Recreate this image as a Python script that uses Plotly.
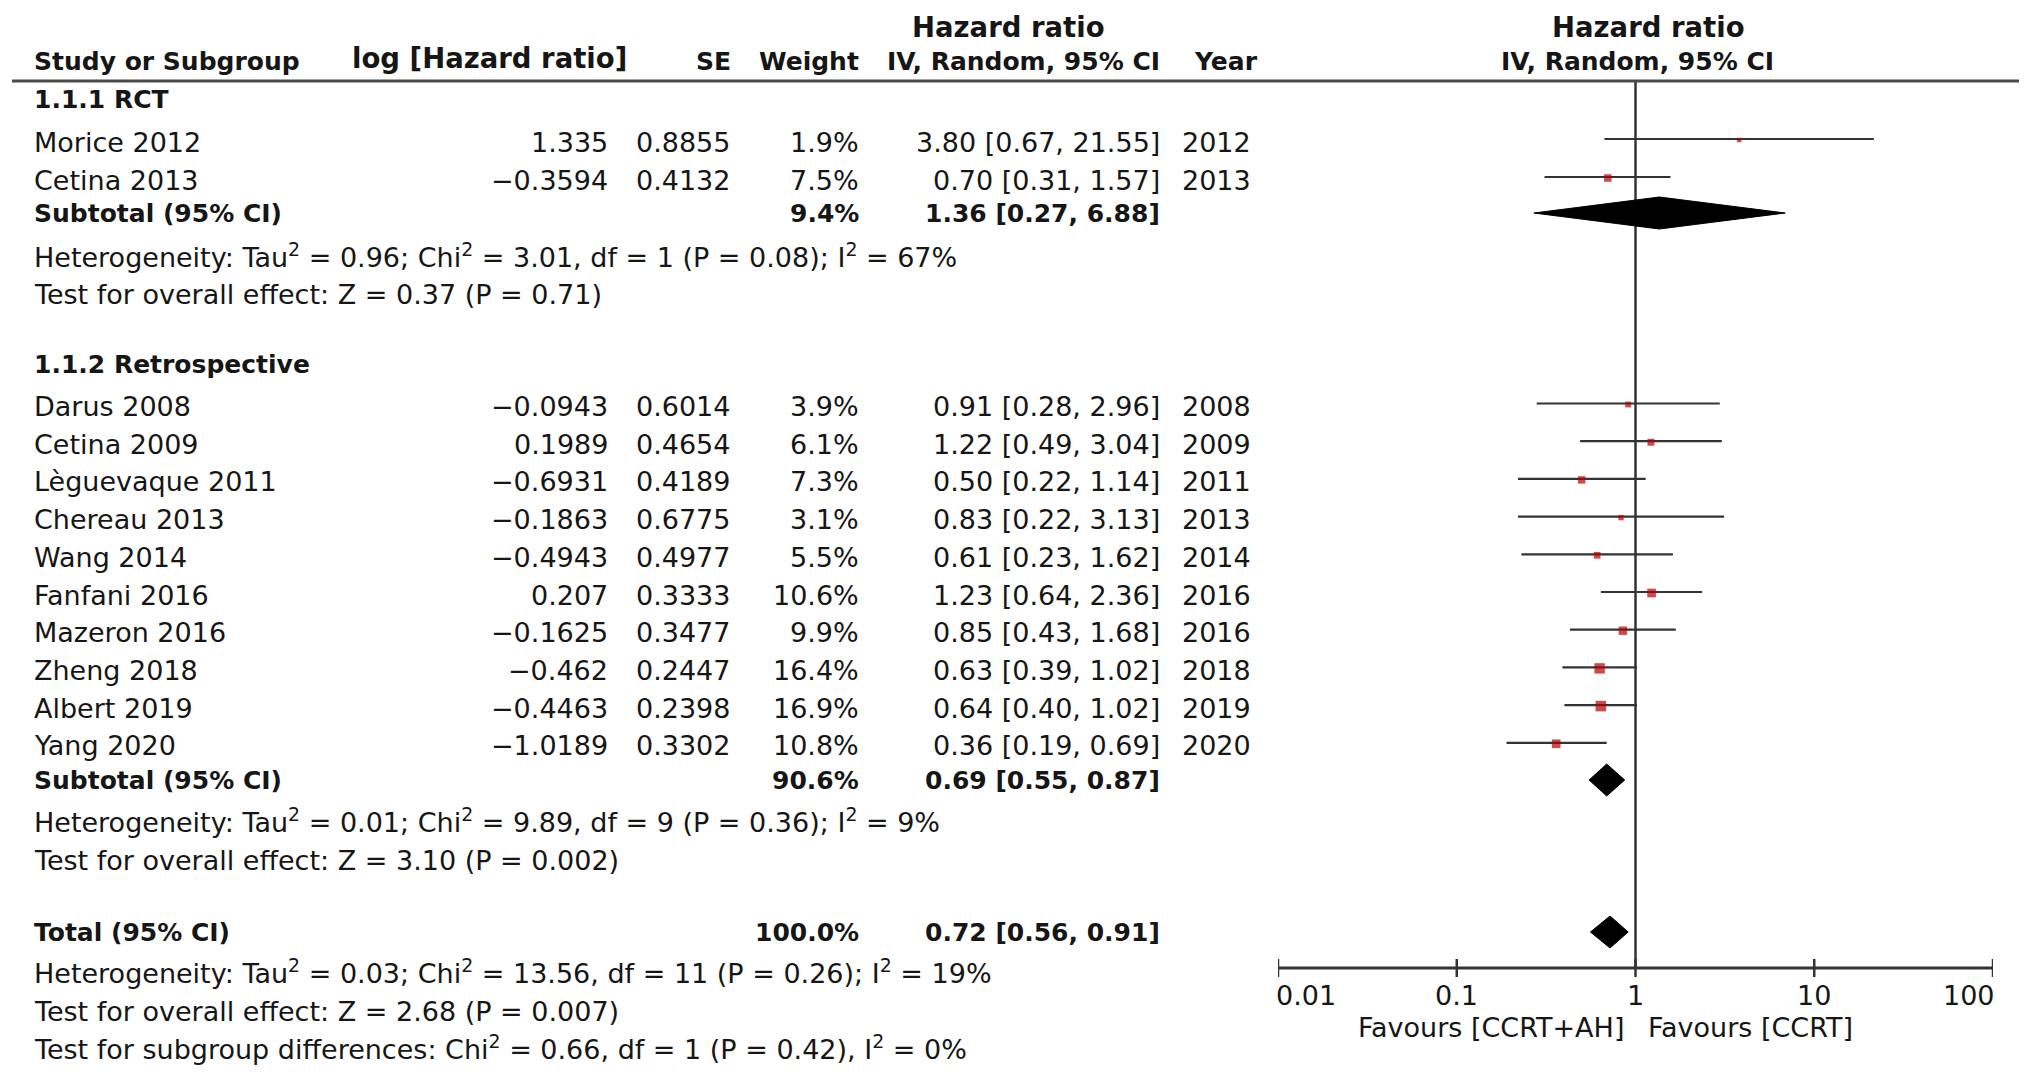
import math
import plotly.graph_objects as go

W, H = 2031, 1077

# ---------------- data ----------------
rct_names = ["Morice 2012", "Cetina 2013"]
rct_loghr = [1.335, -0.3594]
rct_se = [0.8855, 0.4132]
rct_weight = [1.9, 7.5]
rct_hr = [3.80, 0.70]
rct_lo = [0.67, 0.31]
rct_hi = [21.55, 1.57]
rct_year = [2012, 2013]

retro_names = ["Darus 2008", "Cetina 2009", "Lèguevaque 2011", "Chereau 2013", "Wang 2014",
               "Fanfani 2016", "Mazeron 2016", "Zheng 2018", "Albert 2019", "Yang 2020"]
retro_loghr = [-0.0943, 0.1989, -0.6931, -0.1863, -0.4943, 0.207, -0.1625, -0.462, -0.4463, -1.0189]
retro_se = [0.6014, 0.4654, 0.4189, 0.6775, 0.4977, 0.3333, 0.3477, 0.2447, 0.2398, 0.3302]
retro_weight = [3.9, 6.1, 7.3, 3.1, 5.5, 10.6, 9.9, 16.4, 16.9, 10.8]
retro_hr = [0.91, 1.22, 0.50, 0.83, 0.61, 1.23, 0.85, 0.63, 0.64, 0.36]
retro_lo = [0.28, 0.49, 0.22, 0.22, 0.23, 0.64, 0.43, 0.39, 0.40, 0.19]
retro_hi = [2.96, 3.04, 1.14, 3.13, 1.62, 2.36, 1.68, 1.02, 1.02, 0.69]
retro_year = [2008, 2009, 2011, 2013, 2014, 2016, 2016, 2018, 2019, 2020]

# subtotal / total: weight, HR, lower, upper
sub_rct = [9.4, 1.36, 0.27, 6.88]
sub_retro = [90.6, 0.69, 0.55, 0.87]
total_all = [100.0, 0.72, 0.56, 0.91]

SUP2 = "<sup>2</sup>"
het_rct = f"Heterogeneity: Tau{SUP2} = 0.96; Chi{SUP2} = 3.01, df = 1 (P = 0.08); I{SUP2} = 67%"
eff_rct = "Test for overall effect: Z = 0.37 (P = 0.71)"
het_retro = f"Heterogeneity: Tau{SUP2} = 0.01; Chi{SUP2} = 9.89, df = 9 (P = 0.36); I{SUP2} = 9%"
eff_retro = "Test for overall effect: Z = 3.10 (P = 0.002)"
het_total = f"Heterogeneity: Tau{SUP2} = 0.03; Chi{SUP2} = 13.56, df = 11 (P = 0.26); I{SUP2} = 19%"
eff_total = "Test for overall effect: Z = 2.68 (P = 0.007)"
sub_diff = f"Test for subgroup differences: Chi{SUP2} = 0.66, df = 1 (P = 0.42), I{SUP2} = 0%"

tick_vals = [0.01, 0.1, 1, 10, 100]
tick_text = ["0.01", "0.1", "1", "10", "100"]
fav_left = "Favours [CCRT+AH]"
fav_right = "Favours [CCRT]"

# ---------------- layout constants ----------------
FONT = "DejaVu Sans"
TXT = "#161616"
REG = 27
BOLD = 25
PAD = 4            # annotation inner padding compensation
X_NAME = 36
X_LOG = 606
X_SE = 728
X_W = 857
X_CI = 1158
X_YEAR = 1184
AX_X0, AX_X1 = 1278, 1993

Y_HDR1, Y_HDR2, Y_RULE = 27, 61, 81
Y_RCT_HDR = 99
Y_RCT = [142 + i * 38 for i in range(len(rct_names))]
Y_RCT_SUB = 213
Y_RCT_HET, Y_RCT_EFF = 255, 294
Y_RET_HDR = 364
Y_RET = [406.5 + i * 37.7 for i in range(len(retro_names))]
Y_RET_SUB = 780
Y_RET_HET, Y_RET_EFF = 820, 860
Y_TOT = 932
Y_TOT_HET, Y_TOT_EFF, Y_SUBDIFF = 971, 1011, 1047
Y_AXIS = 968
MARK_UP = 3

fig = go.Figure()
ann = []


def txt(x, y, s, anchor="left", bold=False, size=None):
    sz = size if size is not None else (BOLD if bold else REG)
    if anchor == "left":
        x -= PAD
    elif anchor == "right":
        x += PAD
    ann.append(dict(x=x / W, xref="paper", y=y, yref="y", text=(f"<b>{s}</b>" if bold else s),
                    xanchor=anchor, yanchor="middle", showarrow=False,
                    font=dict(family=FONT, size=sz, color=TXT)))


def num(v):
    return str(v).replace("-", "−")


def ci(h, l, u):
    return f"{h:.2f} [{l:.2f}, {u:.2f}]"


# headers
txt(1008, Y_HDR1, "Hazard ratio", "center", True, 27.5)
txt(1648, Y_HDR1, "Hazard ratio", "center", True, 27.5)
txt(X_NAME, Y_HDR2, "Study or Subgroup", "left", True)
txt(354, Y_HDR2 - 3, "log [Hazard ratio]", "left", True, 27.5)
txt(X_SE + 1, Y_HDR2, "SE", "right", True)
txt(X_W, Y_HDR2, "Weight", "right", True)
txt(X_CI, Y_HDR2, "IV, Random, 95% CI", "right", True)
txt(1256, Y_HDR2, "Year", "right", True)
txt(1637, Y_HDR2, "IV, Random, 95% CI", "center", True)

fig.add_shape(type="line", xref="paper", yref="y", x0=12 / W, x1=2019 / W, y0=Y_RULE, y1=Y_RULE,
              line=dict(color="#4a4a4a", width=3))


def study_rows(names, loghr, se, weight, hr, lo, hi, year, ys):
    for i, n in enumerate(names):
        y = ys[i]
        txt(X_NAME, y, n)
        txt(X_LOG, y, num(loghr[i]), "right")
        txt(X_SE, y, num(se[i]), "right")
        txt(X_W, y, f"{weight[i]:.1f}%", "right")
        txt(X_CI, y, ci(hr[i], lo[i], hi[i]), "right")
        txt(X_YEAR, y, str(year[i]))
    # CI lines
    xs, yl = [], []
    for i in range(len(names)):
        xs += [lo[i], hi[i], None]
        yl += [ys[i] - MARK_UP, ys[i] - MARK_UP, None]
    fig.add_trace(go.Scatter(x=xs, y=yl, mode="lines", line=dict(color="#333333", width=2.2),
                             hoverinfo="skip", showlegend=False))
    fig.add_trace(go.Scatter(x=hr, y=[v - MARK_UP + 1 for v in ys], mode="markers",
                             marker=dict(symbol="square", color="#b40000",
                                         size=[2.2 * math.sqrt(w) + 1.5 for w in weight],
                                         line=dict(width=0)),
                             hoverinfo="skip", showlegend=False))


def diamond(vals, y, label):
    w, h, l, u = vals
    txt(X_NAME, y, label, "left", True)
    txt(X_W, y, f"{w:.1f}%", "right", True)
    txt(X_CI, y, ci(h, l, u), "right", True)
    fig.add_trace(go.Scatter(x=[l, h, u, h, l], y=[y, y - 16, y, y + 16, y], mode="lines",
                             fill="toself", fillcolor="black", line=dict(color="black", width=1),
                             hoverinfo="skip", showlegend=False))


# vertical line of no effect
fig.add_trace(go.Scatter(x=[1, 1], y=[Y_RULE, Y_AXIS], mode="lines",
                         line=dict(color="#333333", width=2.5), hoverinfo="skip", showlegend=False))

txt(X_NAME, Y_RCT_HDR, "1.1.1 RCT", "left", True)
study_rows(rct_names, rct_loghr, rct_se, rct_weight, rct_hr, rct_lo, rct_hi, rct_year, Y_RCT)
diamond(sub_rct, Y_RCT_SUB, "Subtotal (95% CI)")
txt(X_NAME, Y_RCT_HET, het_rct)
txt(X_NAME, Y_RCT_EFF, eff_rct)

txt(X_NAME, Y_RET_HDR, "1.1.2 Retrospective", "left", True)
study_rows(retro_names, retro_loghr, retro_se, retro_weight, retro_hr, retro_lo, retro_hi, retro_year, Y_RET)
diamond(sub_retro, Y_RET_SUB, "Subtotal (95% CI)")
txt(X_NAME, Y_RET_HET, het_retro)
txt(X_NAME, Y_RET_EFF, eff_retro)

diamond(total_all, Y_TOT, "Total (95% CI)")
txt(X_NAME, Y_TOT_HET, het_total)
txt(X_NAME, Y_TOT_EFF, eff_total)
txt(X_NAME, Y_SUBDIFF, sub_diff)

# axis line + crossing ticks
fig.add_trace(go.Scatter(x=[tick_vals[0], tick_vals[-1]], y=[Y_AXIS, Y_AXIS], mode="lines",
                         line=dict(color="#333333", width=3), hoverinfo="skip", showlegend=False))
tx, ty = [], []
for v in tick_vals:
    tx += [v, v, None]
    ty += [Y_AXIS - 9, Y_AXIS + 9, None]
fig.add_trace(go.Scatter(x=tx, y=ty, mode="lines", line=dict(color="#333333", width=2.5),
                         hoverinfo="skip", showlegend=False))
for i, (v, t) in enumerate(zip(tick_vals, tick_text)):
    anchor = "left" if i == 0 else ("right" if i == len(tick_vals) - 1 else "center")
    xs = -PAD if anchor == "left" else (PAD if anchor == "right" else 0)
    ann.append(dict(x=math.log10(v), xref="x", y=Y_AXIS + 27, yref="y", text=t, xanchor=anchor,
                    xshift=xs, yanchor="middle", showarrow=False,
                    font=dict(family=FONT, size=REG, color=TXT)))
ann.append(dict(x=0, xref="x", y=Y_AXIS + 59, yref="y", text=fav_left, xanchor="right", xshift=-10,
                yanchor="middle", showarrow=False, font=dict(family=FONT, size=REG, color=TXT)))
ann.append(dict(x=0, xref="x", y=Y_AXIS + 59, yref="y", text=fav_right, xanchor="left", xshift=10,
                yanchor="middle", showarrow=False, font=dict(family=FONT, size=REG, color=TXT)))

fig.update_layout(
    width=W, height=H,
    margin=dict(l=0, r=0, t=0, b=0),
    paper_bgcolor="white", plot_bgcolor="white",
    xaxis=dict(type="log", range=[-2, 2], domain=[AX_X0 / W, AX_X1 / W], visible=False, fixedrange=True),
    yaxis=dict(range=[H, 0], domain=[0, 1], visible=False, fixedrange=True),
    annotations=ann,
    showlegend=False,
)

fig.write_html("out.html", config={"displayModeBar": False, "staticPlot": True},
               post_script="document.body.style.margin='0';document.body.style.overflow='hidden';")
